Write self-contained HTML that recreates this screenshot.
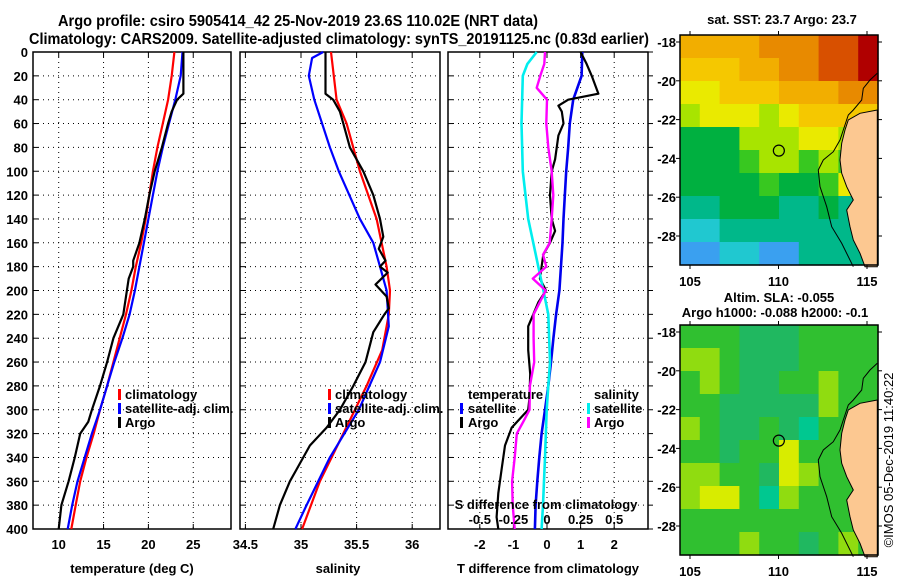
<!DOCTYPE html>
<html><head><meta charset="utf-8"><style>
html,body{margin:0;padding:0;background:#fff;}
svg{display:block;font-family:"Liberation Sans",sans-serif;font-weight:bold;}
</style></head><body>
<svg id="fig" width="900" height="580" viewBox="0 0 900 580" xmlns="http://www.w3.org/2000/svg">
<text x="58" y="26" font-size="16" textLength="480" lengthAdjust="spacingAndGlyphs">Argo profile: csiro 5905414_42 25-Nov-2019 23.6S 110.02E (NRT data)</text>
<text x="29" y="44" font-size="16" textLength="620" lengthAdjust="spacingAndGlyphs">Climatology: CARS2009. Satellite-adjusted climatology: synTS_20191125.nc (0.83d earlier)</text>
<g id="g"></g>
</svg>
<script>
// ---- data ----
const depthTicks = [0,20,40,60,80,100,120,140,160,180,200,220,240,260,280,300,320,340,360,380,400];
const tTicks = [10,15,20,25];
const sTicks = [34.5,35,35.5,36];
const dTTicks = [-2,-1,0,1,2];
const dSTicks = [-0.5,-0.25,0,0.25,0.5];
const dSTickLabels = ["-0.5","-0.25","0","0.25","0.5"];

const climTDepth = [0,20,40,60,80,100,120,140,160,180,200,220,240,260,280,300,320,340,360,380,400];
const climT = [22.9,22.6,22.2,21.6,21.0,20.5,20.1,19.7,19.2,18.6,18.1,17.5,16.8,16.1,15.4,14.6,13.9,13.1,12.4,11.9,11.4];
const satT = [23.8,23.6,23.0,22.3,21.6,21.0,20.5,20.0,19.5,19.0,18.5,17.9,17.1,16.2,15.4,14.6,13.7,12.9,12.1,11.5,11.0];
const argoTDepth = [0,35,40,50,60,80,100,120,140,160,175,180,190,200,220,240,260,280,300,310,320,340,360,380,400];
const argoT = [23.9,23.9,23.2,22.6,22.2,21.5,20.7,20.1,19.6,19.0,18.3,18.3,17.8,17.6,17.2,16.1,15.4,14.6,13.7,13.3,12.4,11.8,11.1,10.3,10.0];

const climSDepth = [0,40,60,100,140,180,200,220,250,280,320,360,400];
const climS = [35.27,35.32,35.41,35.53,35.68,35.77,35.80,35.79,35.73,35.59,35.38,35.17,35.01];
const satSDepth = [0,5,20,40,80,100,140,160,180,200,230,260,300,340,380,400];
const satS = [35.20,35.10,35.07,35.12,35.26,35.34,35.53,35.65,35.71,35.77,35.79,35.71,35.52,35.26,35.05,34.95];
const argoSDepth = [0,35,40,50,60,80,100,120,140,155,165,175,180,185,195,205,215,220,235,260,280,300,315,330,350,360,380,400];
const argoS = [35.22,35.22,35.29,35.35,35.38,35.44,35.56,35.65,35.71,35.74,35.70,35.76,35.71,35.78,35.67,35.77,35.79,35.75,35.65,35.58,35.47,35.35,35.23,35.08,34.96,34.90,34.81,34.75];

const dSatTDepth = [0,20,40,60,80,100,140,160,200,220,240,260,280,300,320,340,360,380,400];
const dSatT = [1.05,1.03,0.78,0.68,0.63,0.57,0.49,0.46,0.37,0.27,0.19,0.12,0.04,-0.06,-0.16,-0.23,-0.29,-0.34,-0.36];
const dArgoTDepth = [0,10,20,35,40,45,50,60,70,90,100,120,140,150,160,170,180,190,200,210,230,250,270,290,300,315,330,350,370,390,400];
const dArgoT = [1.0,1.18,1.33,1.53,0.63,0.34,0.44,0.49,0.34,0.24,0.14,0.09,0.14,0.24,0.09,-0.11,-0.16,-0.21,-0.03,-0.26,-0.56,-0.56,-0.5,-0.52,-0.56,-1.05,-1.25,-1.35,-1.45,-1.5,-1.45];
const dSatSDepth = [0,10,20,60,100,140,180,200,220,260,280,300,340,380,400];
const dSatS = [-0.077,-0.146,-0.18,-0.19,-0.18,-0.14,-0.065,-0.027,0.01,0.022,0.01,-0.002,-0.015,-0.03,-0.04];
const dArgoSDepth = [0,10,20,30,40,60,80,100,120,140,160,170,180,190,200,220,240,260,280,300,310,320,340,360,380,400];
const dArgoS = [-0.015,-0.02,-0.05,-0.077,0.0,-0.005,0.01,0.035,0.047,0.035,0.02,-0.03,-0.005,-0.106,-0.01,-0.1,-0.1,-0.095,-0.127,-0.13,-0.176,-0.225,-0.24,-0.26,-0.255,-0.24];

// map grids (rows lat 17.6->29.6, cols lon 104.5->115.7)
const sstGrid = [
[3,3,3,3,2,2,2,1,1,0],
[4,4,4,3,3,2,2,1,1,0],
[5,5,4,4,4,3,3,3,2,2],
[6,5,5,5,6,5,4,4,4,4],
[8,8,8,6,6,6,5,5,6,6],
[8,8,8,7,6,6,7,6,7,7],
[8,8,8,8,7,8,8,7,5,8],
[9,9,8,8,8,9,9,8,9,9],
[10,10,9,9,9,9,9,9,9,9],
[11,11,10,10,11,11,9,9,9,9]];
const sstColors = ["#b00000","#d85000","#e88a00","#f2ae00","#f5c800","#eaea00","#a8e400","#38c820","#00b040","#00b88a","#20c8d0","#3aa0f0"];
const slaGrid = [
[2,2,2,1,1,1,2,2,2,2],
[3,3,2,1,1,1,2,2,2,2],
[2,3,2,1,1,2,2,3,2,2],
[2,2,1,1,1,1,1,3,2,2],
[3,2,1,1,2,1,0,2,2,2],
[2,2,1,2,2,4,2,2,2,2],
[3,3,2,2,1,4,3,2,2,2],
[3,4,4,2,0,3,2,2,2,2],
[2,2,2,2,2,2,2,2,2,2],
[2,2,2,3,2,2,1,2,3,2]];
const slaColors = ["#00c890","#20b860","#30c030","#90dc10","#d8ec00"];
const floatLon = 110.02, floatLat = 23.6;

// ---- helpers ----
const NS="http://www.w3.org/2000/svg";
const G=document.getElementById('g');
function mk(tag,attrs,parent){const e=document.createElementNS(NS,tag);for(const k in attrs)e.setAttribute(k,attrs[k]);(parent||G).appendChild(e);return e;}
const Y0=52, Y1=529;
const yD = d => Y0 + d*(Y1-Y0)/400;
const xT = t => 58.7 + (t-10)*8.97;
const xS = s => 245.4 + (s-34.5)*111.2;
const xDT = t => 547 + t*33.6;
const xDS = s => 547 + s*134.4;

function panel(x0,x1,name){
  const r=mk('rect',{x:x0,y:Y0,width:x1-x0,height:Y1-Y0,fill:'none',stroke:'#000','stroke-width':1.5});
  
  
  depthTicks.forEach(d=>{
    if(d>0&&d<400){const l=mk('line',{x1:x0,x2:x1,y1:yD(d),y2:yD(d),stroke:'#000','stroke-dasharray':'1 4','stroke-width':1});
    
    }
    mk('line',{x1:x0,x2:x0+5,y1:yD(d),y2:yD(d),stroke:'#000'});
  });
}
function xgrid(ticks,fx,labels,ly,name){
  ticks.forEach((t,i)=>{
    const x=fx(t);
    const l=mk('line',{x1:x,x2:x,y1:Y0,y2:Y1,stroke:'#000','stroke-dasharray':'1 4'});
    
    
    mk('line',{x1:x,x2:x,y1:Y1,y2:Y1-5,stroke:'#000'});
    mk('line',{x1:x,x2:x,y1:Y0,y2:Y0+5,stroke:'#000'});
    if(labels){const tx=mk('text',{x:x,y:ly,'font-size':13,'text-anchor':'middle'});tx.textContent=labels[i];
    
    }
  });
}
function line(depths,vals,fx,color,name,w){
  const pts=depths.map((d,i)=>fx(vals[i]).toFixed(1)+','+yD(d).toFixed(1)).join(' ');
  const p=mk('polyline',{points:pts,fill:'none',stroke:color,'stroke-width':w||2.2,'stroke-linejoin':'round'});
  
  
}
function txt(x,y,s,name,opts){const t=mk('text',Object.assign({x:x,y:y,'font-size':13},opts||{}));t.textContent=s;
  
  return t;}
function legendMark(x,y,color){mk('rect',{x:x,y:y-10,width:3,height:11,fill:color});}

// ---- panel 1: temperature ----
panel(33,231,'temperature-panel');
xgrid(tTicks,xT,tTicks.map(String),549,'temperature-tick-label');
depthTicks.forEach(d=>{const t=txt(28,yD(d)+5,String(d),'depth-tick-label',{'text-anchor':'end'});});
line(climTDepth,climT,xT,'#f00','climatology-temperature-line');
line(climTDepth,satT,xT,'#00f','satellite-temperature-line');
line(argoTDepth,argoT,xT,'#000','argo-temperature-line');
txt(132,573,'temperature (deg C)','temperature-axis-title',{'text-anchor':'middle'});
legendMark(118,399,'#f00');txt(125,399,'climatology','legend-climatology');
legendMark(118,413,'#00f');txt(125,413,'satellite-adj. clim.','legend-satellite-adj');
legendMark(118,427,'#000');txt(125,427,'Argo','legend-argo');

// ---- panel 2: salinity ----
panel(240,440,'salinity-panel');
xgrid(sTicks,xS,sTicks.map(String),549,'salinity-tick-label');
line(climSDepth,climS,xS,'#f00','climatology-salinity-line');
line(satSDepth,satS,xS,'#00f','satellite-salinity-line');
line(argoSDepth,argoS,xS,'#000','argo-salinity-line');
txt(338,573,'salinity','salinity-axis-title',{'text-anchor':'middle'});
legendMark(328,399,'#f00');txt(335,399,'climatology','legend-climatology-2');
legendMark(328,413,'#00f');txt(335,413,'satellite-adj. clim.','legend-satellite-adj-2');
legendMark(328,427,'#000');txt(335,427,'Argo','legend-argo-2');

// ---- panel 3: differences ----
panel(448,648,'difference-panel');
xgrid(dTTicks,xDT,dTTicks.map(String),549,'t-diff-tick-label');
depthTicks.forEach(d=>mk('line',{x1:648,x2:653,y1:yD(d),y2:yD(d),stroke:'#000'}));
line(dSatTDepth,dSatT,xDT,'#0000ee','satellite-t-diff-line',2.6);
line(dArgoTDepth,dArgoT,xDT,'#000','argo-t-diff-line');
line(dSatSDepth,dSatS,xDS,'#00eeee','satellite-s-diff-line',2.6);
line(dArgoSDepth,dArgoS,xDS,'#ff00ff','argo-s-diff-line',2.4);
txt(548,573,'T difference from climatology','t-diff-axis-title',{'text-anchor':'middle'});
txt(546,509,'S difference from climatology','s-diff-axis-title',{'text-anchor':'middle'});
dSTicks.forEach((s,i)=>{txt(xDS(s),524,dSTickLabels[i],'s-diff-tick-label',{'text-anchor':'middle'});});
txt(468,399,'temperature','legend-temperature-header');
legendMark(460,413,'#00f');txt(468,413,'satellite','legend-t-satellite');
legendMark(460,427,'#000');txt(468,427,'Argo','legend-t-argo');
txt(594,399,'salinity','legend-salinity-header');
legendMark(587,413,'#0ee');txt(594,413,'satellite','legend-s-satellite');
legendMark(587,427,'#f0f');txt(594,427,'Argo','legend-s-argo');

// ---- maps ----
const MX0=680, MX1=878;
const mlon = lon => 690 + (lon-105)*17.7;
const mlat = (lat,oy) => oy + 42 + (lat-18)*19.4;
function drawMap(oy,grid,colors,name){
  const top=oy+35, bot=oy+265;
  const g=mk('g',{});
  
  
  const rows=grid.length, cols=grid[0].length;
  const cw=(MX1-MX0)/cols, ch=(bot-top)/rows;
  grid.forEach((row,r)=>row.forEach((v,c)=>{
    const cell=mk('rect',{x:(MX0+c*cw).toFixed(1),y:(top+r*ch).toFixed(1),width:(cw+0.6).toFixed(1),height:(ch+0.6).toFixed(1),fill:colors[v]},g);
    
    
  }));
  const land=[[652,330],[600,340],[565,360],[555,390],[545,430],[540,480],[545,520],[560,560],[580,600],[560,630],[570,680],[580,720],[600,760],[615,800],[652,800]]
    .map(p=>(660+p[0]/3).toFixed(1)+','+(oy+p[1]/3).toFixed(1)).join(' ');
  const L=mk('polygon',{points:land,fill:'#fcc891',stroke:'#000','stroke-width':1},g);
  
  
  const iso=[[652,220],[630,240],[610,265],[605,300],[580,330],[565,345],[550,390],[540,420],[520,455],[490,480],[475,510],[480,560],[500,620],[515,680],[545,730],[580,800]]
    .map(p=>(660+p[0]/3).toFixed(1)+','+(oy+p[1]/3).toFixed(1)).join(' ');
  const I=mk('polyline',{points:iso,fill:'none',stroke:'#000','stroke-width':1},g);
  
  
  mk('rect',{x:MX0,y:top,width:MX1-MX0,height:bot-top,fill:'none',stroke:'#000','stroke-width':1.5},g);
  [18,20,22,24,26,28].forEach(lat=>{const y=mlat(lat,oy);
    mk('line',{x1:MX0-4,x2:MX0,y1:y,y2:y,stroke:'#000'},g);mk('line',{x1:MX1,x2:MX1+4,y1:y,y2:y,stroke:'#000'},g);
    txt(676,y+5,'-'+lat,'latitude-tick-label',{'text-anchor':'end'});});
  [105,110,115].forEach(lon=>{const x=mlon(lon);
    mk('line',{x1:x,x2:x,y1:top-4,y2:top,stroke:'#000'},g);mk('line',{x1:x,x2:x,y1:bot,y2:bot+4,stroke:'#000'},g);
    txt(x,oy+286,String(lon),'longitude-tick-label',{'text-anchor':'middle'});});
  const c=mk('circle',{cx:mlon(floatLon),cy:mlat(floatLat,oy),r:5.5,fill:'none',stroke:'#000','stroke-width':1.2},g);
  
  
}
drawMap(0,sstGrid,sstColors,'sst-map');
drawMap(290,slaGrid,slaColors,'sla-map');
txt(782,24,'sat. SST: 23.7 Argo: 23.7','sst-map-title',{'text-anchor':'middle'});
txt(779,302,'Altim. SLA: -0.055','sla-map-title',{'text-anchor':'middle'});
txt(775,317,'Argo h1000: -0.088 h2000: -0.1','sla-map-subtitle',{'text-anchor':'middle'});
txt(0,0,'©IMOS 05-Dec-2019 11:40:22','copyright-stamp',{'text-anchor':'middle','font-weight':'normal','transform':'translate(893,460) rotate(-90)'});
</script>
</body></html>
